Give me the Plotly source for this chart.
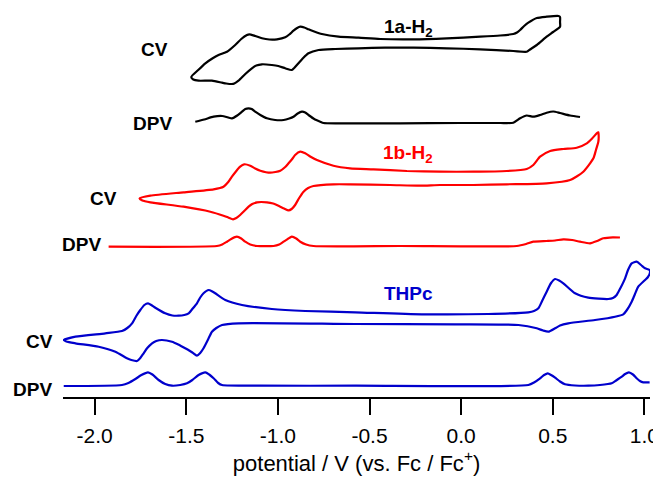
import plotly.graph_objects as go

# ---------------- data (potential in V vs Fc/Fc+, current in a.u.) ----------------
TICK_VALUES = [-2.0, -1.5, -1.0, -0.5, 0.0, 0.5, 1.0]
TICK_LABELS = ["-2.0", "-1.5", "-1.0", "-0.5", "0.0", "0.5", "1.0"]

# 1a-H2 CV (closed loop)
A_CV_V = [-1.473, -1.435, -1.396, -1.358, -1.324, -1.278, -1.233, -1.200, -1.169, -1.156,
          -1.124, -1.087, -1.047, -1.005, -0.960, -0.938, -0.915, -0.895, -0.878, -0.856,
          -0.833, -0.802, -0.760, -0.669, -0.560, -0.442, -0.260, -0.078, 0.104, 0.213,
          0.285, 0.305, 0.322, 0.344, 0.367, 0.413, 0.467, 0.531, 0.540, 0.540,
          0.540, 0.502, 0.467, 0.413, 0.376, 0.358, 0.285, 0.104, -0.078, -0.260,
          -0.415, -0.560, -0.687, -0.778, -0.833, -0.862, -0.888, -0.911, -0.924, -0.960,
          -0.998, -1.033, -1.087, -1.118, -1.142, -1.178, -1.215, -1.238, -1.251, -1.282,
          -1.305, -1.360, -1.433, -1.462, -1.473]
A_CV_I = [-34, -27, -20.3, -15.5, -12, -8.7, -2, 4, 8, 8.7,
          7, 4.7, 3.5, 3.7, 5.7, 8.5, 12.3, 15, 16.3, 15.5,
          13.7, 11.5, 9, 6.3, 5.3, 4, 3.7, 4.7, 6.3, 7.5,
          9, 10.5, 13, 17, 20.3, 25, 26.3, 27, 26, 21,
          16.3, 11, 6.3, -2, -6.5, -8.7, -8, -6.3, -5.3, -4.7,
          -4.7, -5.3, -6, -7, -10.3, -15, -20.3, -25, -27, -25.3,
          -23, -22, -21.3, -22.5, -25.3, -31, -37.7, -40.5, -41, -40.5,
          -39.7, -37.7, -37.7, -36.5, -34]

# 1a-H2 DPV
A_DPV_V = [-1.451, -1.402, -1.351, -1.304, -1.251, -1.222, -1.196, -1.178, -1.160, -1.143,
           -1.124, -1.096, -1.060, -1.015, -0.969, -0.938, -0.915, -0.892, -0.869, -0.851,
           -0.833, -0.802, -0.769, -0.751, -0.660, -0.333, -0.005, 0.213, 0.285, 0.322,
           0.358, 0.394, 0.431, 0.467, 0.503, 0.540, 0.595, 0.649]
A_DPV_I = [1.3, 3.5, 6.3, 7, 4.7, 7.5, 11.3, 14, 14.7, 14,
           11.3, 8, 4.7, 3, 3, 4.5, 6.3, 9.5, 11.3, 10.5,
           8, 4, 1.3, 0, -0.3, -0.3, 0, 0, 0.3, 4.7,
           7.5, 6.3, 8, 10.3, 11.5, 10, 7.5, 6]

# 1b-H2 CV (closed loop)
B_CV_V = [-1.755, -1.696, -1.515, -1.351, -1.297, -1.271, -1.251, -1.227, -1.206, -1.184,
          -1.151, -1.124, -1.096, -1.042, -0.987, -0.960, -0.942, -0.922, -0.906, -0.878,
          -0.851, -0.824, -0.787, -0.697, -0.606, -0.478, -0.296, -0.115, 0.067, 0.249,
          0.358, 0.394, 0.431, 0.486, 0.558, 0.631, 0.686, 0.715, 0.740, 0.749,
          0.751, 0.749, 0.736, 0.722, 0.667, 0.595, 0.467, 0.249, 0.067, -0.115,
          -0.224, -0.387, -0.606, -0.697, -0.806, -0.835, -0.860, -0.884, -0.906, -0.925,
          -0.942, -0.966, -0.987, -1.026, -1.060, -1.114, -1.140, -1.160, -1.184, -1.206,
          -1.227, -1.245, -1.271, -1.297, -1.369, -1.515, -1.696, -1.740, -1.755]
B_CV_I = [-13.5, -10.7, -7.3, -4.3, -1.7, 3, 8.3, 14, 18.3, 20.7,
          19.3, 16.5, 14.3, 12.3, 14.3, 18, 21.7, 26, 30, 33.3,
          31.7, 28.5, 25, 19.3, 16.7, 15.7, 14, 13.3, 13.3, 14,
          16, 20, 28.3, 34, 36, 37.3, 41.7, 46.5, 51.7, 52.7,
          48, 43.3, 35, 26.7, 13.3, 5, 1.7, 0.7, 0, 0,
          -0.7, 0, 0.7, 0.7, -1, -3, -6.7, -13, -20, -24,
          -25.3, -23.5, -21.7, -18.5, -17.3, -17.3, -19, -21.7, -26, -30,
          -33, -34.3, -32.5, -30.7, -26.7, -21.7, -17.3, -15.5, -13.5]

# 1b-H2 DPV
B_DPV_V = [-1.924, -1.333, -1.304, -1.278, -1.255, -1.224, -1.200, -1.178, -1.151, -1.114,
           -1.024, -0.993, -0.969, -0.946, -0.924, -0.900, -0.878, -0.846, -0.806, -0.333,
           0.304, 0.355, 0.394, 0.467, 0.513, 0.558, 0.606, 0.649, 0.704, 0.742,
           0.776, 0.828, 0.867]
B_DPV_I = [-0.7, 0, 1.5, 4.3, 7, 9.3, 7.5, 4.3, 1.5, 0,
           0, 1.5, 4.3, 7, 9.3, 7.5, 4.3, 1.5, 0, 0,
           0, 2, 4.3, 5, 5.5, 6.7, 6, 4.3, 2.7, 5,
           7.7, 8.7, 8.5]

# THPc CV (closed loop)
C_CV_V = [-2.169, -2.105, -1.942, -1.851, -1.822, -1.796, -1.773, -1.751, -1.729, -1.709,
          -1.691, -1.669, -1.615, -1.576, -1.542, -1.511, -1.487, -1.467, -1.442, -1.424,
          -1.406, -1.378, -1.358, -1.342, -1.287, -1.196, -1.033, -0.851, -0.578, -0.214,
          0.149, 0.367, 0.398, 0.422, 0.442, 0.467, 0.491, 0.513, 0.535, 0.558,
          0.622, 0.694, 0.803, 0.829, 0.849, 0.867, 0.895, 0.911, 0.931, 0.958,
          0.982, 1.004, 1.029, 1.030, 1.020, 1.004, 0.967, 0.949, 0.931, 0.905,
          0.885, 0.840, 0.731, 0.585, 0.540, 0.513, 0.476, 0.447, 0.413, 0.313,
          -0.033, -0.578, -1.215, -1.305, -1.336, -1.360, -1.380, -1.406, -1.424, -1.442,
          -1.467, -1.506, -1.544, -1.578, -1.633, -1.664, -1.687, -1.713, -1.733, -1.751,
          -1.769, -1.800, -1.824, -1.887, -1.978, -2.105, -2.155, -2.169]
C_CV_I = [-16, -12.7, -9.3, -7, -4, 0.7, 8, 14, 19, 20.7,
          19, 16.3, 10.7, 8.5, 8.3, 9, 10.7, 15, 20.7, 26.5,
          30.7, 34, 32.5, 30.7, 24, 19, 15, 13, 11.7, 9.7,
          10, 11.7, 13, 15.7, 23, 32.3, 41, 45, 43.5, 40.7,
          30.7, 26.3, 25, 26, 29, 35, 45.7, 54, 60.7, 62.3,
          59, 55.7, 54, 50.7, 47, 44, 37.3, 30, 22.3, 14,
          9.7, 7.3, 4, 0.7, -1.5, -4.3, -7.7, -6.5, -4.3, -1,
          -0.3, 0, 0.7, -1, -4, -7.7, -15, -24.3, -29, -31.7,
          -28.5, -24.3, -20.5, -17.7, -16, -17, -19.3, -24, -29.3, -34,
          -37, -36, -34.3, -27.7, -22.7, -19.3, -17.5, -16]

# THPc DPV
C_DPV_V = [-2.169, -1.851, -1.816, -1.778, -1.745, -1.709, -1.685, -1.651, -1.615, -1.578,
           -1.533, -1.496, -1.467, -1.433, -1.396, -1.375, -1.351, -1.326, -1.305, -1.096,
           -0.578, 0.367, 0.398, 0.431, 0.453, 0.473, 0.491, 0.513, 0.540, 0.567,
           0.622, 0.694, 0.758, 0.822, 0.846, 0.877, 0.895, 0.916, 0.938, 0.958,
           0.976, 0.994, 1.029]
C_DPV_I = [0, 1, 3, 7, 11, 13.7, 11.5, 6, 2, 0.3,
           1, 2.7, 6, 11, 13.7, 11.5, 7.7, 3, 1, 0.3,
           0.3, 1, 3.5, 7.7, 11, 12.7, 11, 8.3, 4.5, 1.7,
           0.5, 0.3, 1, 2.7, 5.5, 9.3, 12, 13.7, 11.5, 7.7,
           5, 3.7, 3.7]

# vertical stacking offsets of each trace (a.u.)
OFFSETS = {"A_CV": 354, "A_DPV": 274, "B_CV": 212, "B_DPV": 151, "C_CV": 73, "C_DPV": 11}

BLACK, RED, BLUE = "#000000", "#ff0000", "#0000cc"

X_RANGE = [-2.173, 1.031]
Y_RANGE = [0, 389]

traces = [
    (A_CV_V, A_CV_I, OFFSETS["A_CV"], BLACK),
    (A_DPV_V, A_DPV_I, OFFSETS["A_DPV"], BLACK),
    (B_CV_V, B_CV_I, OFFSETS["B_CV"], RED),
    (B_DPV_V, B_DPV_I, OFFSETS["B_DPV"], RED),
    (C_CV_V, C_CV_I, OFFSETS["C_CV"], BLUE),
    (C_DPV_V, C_DPV_I, OFFSETS["C_DPV"], BLUE),
]

fig = go.Figure()
for v, i, off, col in traces:
    fig.add_trace(go.Scatter(
        x=v, y=[off + c for c in i], mode="lines",
        line=dict(color=col, width=2.2, shape="spline", smoothing=0.6),
        hoverinfo="skip", showlegend=False))

# labels: (text, potential, level, color)
LABELS = [
    ("CV", -1.675, 348, BLACK), ("DPV", -1.685, 274, BLACK),
    ("1a-H<sub>2</sub>", -0.289, 369, BLACK),
    ("CV", -1.953, 199, BLACK), ("DPV", -2.073, 153, BLACK),
    ("1b-H<sub>2</sub>", -0.289, 243, RED),
    ("THPc", -0.289, 104, BLUE),
    ("CV", -2.302, 56, BLACK), ("DPV", -2.337, 8, BLACK),
]
annotations = []
for text, xv, yv, col in LABELS:
    annotations.append(dict(
        text="<b>" + text + "</b>",
        x=(xv - X_RANGE[0]) / (X_RANGE[1] - X_RANGE[0]), xref="paper",
        y=(yv - Y_RANGE[0]) / (Y_RANGE[1] - Y_RANGE[0]), yref="paper",
        xanchor="center", yanchor="middle", showarrow=False,
        font=dict(size=19, color=col)))

FONT = "Liberation Sans, Arial, Helvetica, sans-serif"
fig.update_layout(
    width=653, height=469,
    margin=dict(l=55, r=11, t=0, b=80),
    paper_bgcolor="white", plot_bgcolor="white",
    font=dict(family=FONT, color="black"),
    showlegend=False,
    annotations=annotations,
    xaxis=dict(
        range=X_RANGE, tickvals=TICK_VALUES, ticktext=TICK_LABELS,
        ticks="outside", ticklen=16, tickwidth=2, tickcolor="black",
        showline=True, linewidth=2, linecolor="black",
        showgrid=False, zeroline=False, automargin=False,
        ticklabelstandoff=3,
        tickfont=dict(size=21, family=FONT, color="black"),
        title=dict(text="potential / V (vs. Fc / Fc<sup>+</sup>)",
                   font=dict(size=22, family=FONT, color="black"), standoff=9),
    ),
    yaxis=dict(range=Y_RANGE, visible=False, showgrid=False, zeroline=False),
)

fig.write_html("out.html")
